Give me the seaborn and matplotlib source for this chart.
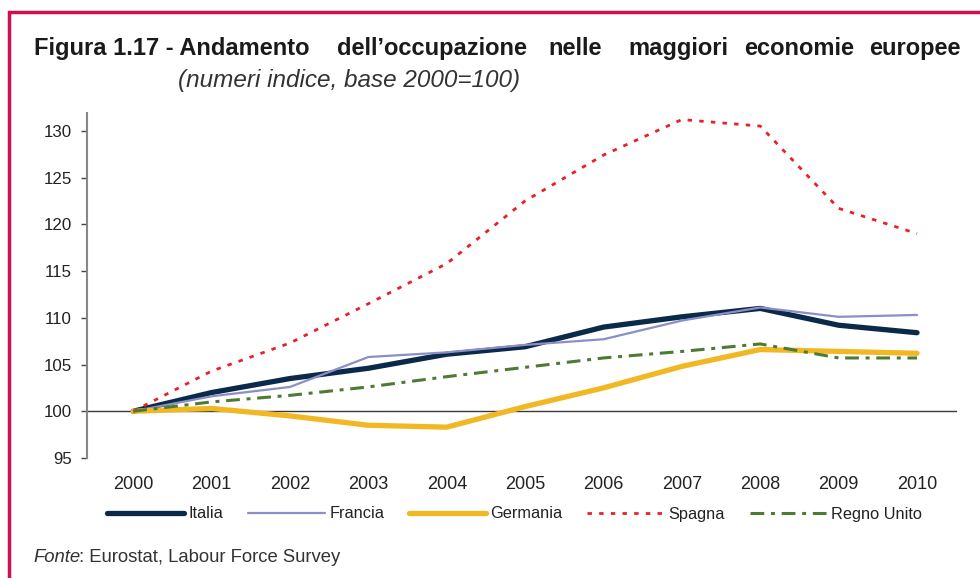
import matplotlib
matplotlib.use("Agg")
import matplotlib.pyplot as plt
import seaborn as sns
import pandas as pd
from matplotlib.patches import Rectangle

years = [2000, 2001, 2002, 2003, 2004, 2005, 2006, 2007, 2008, 2009, 2010]
italia = [100, 102.0, 103.5, 104.6, 106.1, 106.9, 109.0, 110.1, 111.0, 109.2, 108.4]
francia = [100, 101.6, 102.6, 105.8, 106.3, 107.1, 107.7, 109.7, 111.1, 110.1, 110.3]
germania = [100, 100.3, 99.5, 98.5, 98.3, 100.5, 102.5, 104.8, 106.6, 106.4, 106.2]
spagna = [100, 104.3, 107.3, 111.5, 115.8, 122.5, 127.4, 131.2, 130.5, 121.7, 119.0]
regno_unito = [100, 101.0, 101.7, 102.6, 103.7, 104.7, 105.7, 106.4, 107.2, 105.7, 105.7]
yticks = [95, 100, 105, 110, 115, 120, 125, 130]

title_words = ["Figura 1.17 - Andamento", "dell\u2019occupazione", "nelle", "maggiori", "economie", "europee"]
subtitle = "(numeri indice, base 2000=100)"

sns.set_theme(style="white")
plt.rcParams['font.family'] = ['Liberation Sans', 'DejaVu Sans']

fig = plt.figure(figsize=(9.8, 5.78), dpi=100)
ax = fig.add_axes([87/980, 1-458/578, (957-87)/980, (458-113)/578])

series = [
    ("Italia", italia, dict(color="#0B2A4A", lw=3.8, ls="-")),
    ("Francia", francia, dict(color="#8B8FC6", lw=1.6, ls="-")),
    ("Germania", germania, dict(color="#F2B824", lw=3.8, ls="-")),
    ("Spagna", spagna, dict(color="#E8202A", lw=2.0, ls=(0, (1.6, 2.6)))),
    ("Regno Unito", regno_unito, dict(color="#4E7A35", lw=2.2, ls=(0, (4.5, 2.2, 1.3, 2.2)))),
]

ax.axhline(100, color="#3a3a3a", lw=1.0, zorder=1)
for name, vals, st in series:
    df = pd.DataFrame({"anno": years, "valore": vals})
    sns.lineplot(data=df, x="anno", y="valore", ax=ax, label=name,
                 color=st["color"], linewidth=st["lw"], linestyle=st["ls"],
                 solid_capstyle="round", dash_capstyle="butt", zorder=3)

ax.set_xlim(1999.41, 2010.51)
ax.set_ylim(95, 131.9)
ax.set_xticks(years)
ax.set_xticklabels([str(y) for y in years], fontsize=13, color="#222222")
ax.set_yticks(yticks)
ax.set_yticklabels([str(v) for v in yticks], fontsize=12.2, color="#222222")
ax.set_xlabel("")
ax.set_ylabel("")
for s in ["top", "right", "bottom"]:
    ax.spines[s].set_visible(False)
ax.spines["left"].set_color("#888888")
ax.spines["left"].set_linewidth(1.5)
ax.tick_params(axis="y", left=True, length=4, width=1, color="#444444", pad=7)
ax.tick_params(axis="x", bottom=False, length=0, pad=13)

handles, labels = ax.get_legend_handles_labels()
ax.get_legend().remove()
fig.legend(handles, labels, loc="center", bbox_to_anchor=(0.525, 1-514/578), ncol=5,
           frameon=False, fontsize=11.8, handlelength=4.7, handletextpad=0.25,
           columnspacing=1.52, labelcolor="#222222", borderpad=0, borderaxespad=0)

# frame
fig.patches.append(Rectangle((9/980, -0.05), 1.0, 1-12/578+0.05, transform=fig.transFigure,
                             fill=False, edgecolor="#D0104C", linewidth=2.5, zorder=0))

# title (justified words)
xs = [34, 337, 548, 628, 744, 869]
for w, x in zip(title_words, xs):
    fig.text(x/980, 1-55/578, w, fontsize=17, fontweight="bold", color="#1a1a1a",
             va="baseline", ha="left")
fig.text(178/980, 1-80/578, subtitle, fontsize=17.5, fontstyle="italic", color="#333333",
         va="center", ha="left")

# source
t1 = fig.text(33/980, 1-558/578, "Fonte", fontsize=13.3, fontstyle="italic", color="#333333", va="center")
fig.canvas.draw()
bb = t1.get_window_extent()
fig.text((bb.x1 - 1.0)/980, 1-558/578, ": Eurostat, Labour Force Survey", fontsize=13.3,
         color="#333333", va="center")

fig.savefig("out.png", dpi=100)
